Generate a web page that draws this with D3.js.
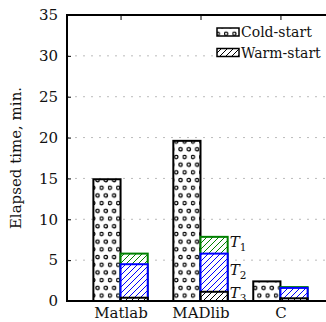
<!DOCTYPE html>
<html><head><meta charset="utf-8">
<script src="https://cdn.jsdelivr.net/npm/d3@7"></script>
<style>
html,body{margin:0;padding:0;background:#fff;}
svg{display:block;}
text{font-family:"DejaVu Serif",serif;fill:#111;}
</style></head>
<body>
<script>
// ---- data ----
const categories = ["Matlab", "MADlib", "C"];
const coldStart = [14.9, 19.6, 2.4];
// warm-start, cumulative tops of each phase (T3 bottom, T2 middle, T1 top)
const warmT1 = [5.8, 7.85, 1.7];
const warmT2 = [4.5, 5.8, 1.6];
const warmT3 = [0.4, 1.13, 0.33];
const yTicks = [0, 5, 10, 15, 20, 25, 30, 35];
const legendLabels = ["Cold-start", "Warm-start"];
const phaseLabels = ["1", "2", "3"];

const W = 326, H = 322;
const m = {left: 67, top: 15, right: 334, bottom: 301};

const svg = d3.select("body").append("svg").attr("width", W).attr("height", H);
const defs = svg.append("defs");

// circle hatch
const pc = defs.append("pattern").attr("id", "dots").attr("patternUnits", "userSpaceOnUse")
  .attr("width", 8.3).attr("height", 15.4).attr("x", 0).attr("y", 0);
pc.append("rect").attr("width", 8.3).attr("height", 15.4).attr("fill", "#fff");
[[2, 3], [6.15, 10.7], [6.15 - 8.3, 10.7]].forEach(([cx, cy]) => {
  pc.append("circle").attr("cx", cx).attr("cy", cy).attr("r", 1.7)
    .attr("fill", "none").attr("stroke", "#000").attr("stroke-width", 1.2);
});
// diagonal hatches
function hatch(id, color) {
  const p = defs.append("pattern").attr("id", id).attr("patternUnits", "userSpaceOnUse")
    .attr("width", 6).attr("height", 6);
  p.append("rect").attr("width", 6).attr("height", 6).attr("fill", "#fff");
  p.append("path").attr("d", "M-1,7 L7,-1 M-4,4 L4,-4 M2,10 L10,2")
    .attr("stroke", color).attr("stroke-width", 1);
}
hatch("hG", "#008000");
hatch("hB", "#0000ff");
hatch("hK", "#000");

const x = d3.scaleLinear().domain([-0.67, 2.67]).range([m.left, m.right]);
const y = d3.scaleLinear().domain([0, 35]).range([m.bottom, m.top]);
const bw = 0.34;

// grid
svg.append("g").selectAll("line").data(yTicks.filter(d => d > 0 && d < 35)).join("line")
  .attr("x1", m.left).attr("x2", W).attr("y1", d => y(d)).attr("y2", d => y(d))
  .attr("stroke", "#bbb").attr("stroke-width", 1).attr("stroke-dasharray", "2,6");

const g = svg.append("g");
// cold bars
g.selectAll(".cold").data(coldStart).join("rect")
  .attr("x", (d, i) => x(i - bw)).attr("width", x(bw) - x(0))
  .attr("y", d => y(d)).attr("height", d => y(0) - y(d))
  .attr("fill", "url(#dots)").attr("stroke", "#000").attr("stroke-width", 2);
// warm bars
[[warmT1, "hG", "#008000"], [warmT2, "hB", "#0000ff"], [warmT3, "hK", "#000"]].forEach(([arr, pid, col]) => {
  g.selectAll(".w" + pid).data(arr).join("rect")
    .attr("x", (d, i) => x(i)).attr("width", x(bw) - x(0))
    .attr("y", d => y(d)).attr("height", d => y(0) - y(d))
    .attr("fill", `url(#${pid})`).attr("stroke", col).attr("stroke-width", 2);
});

// phase annotations next to MADlib warm bar
const mi = 1;
const phaseMid = [(warmT1[mi] + warmT2[mi]) / 2, (warmT2[mi] + warmT3[mi]) / 2, warmT3[mi] / 2];
phaseMid.forEach((v, k) => {
  const t = svg.append("text").attr("x", x(mi + bw) + 2).attr("y", y(v) + 2)
    .attr("font-size", 15);
  t.append("tspan").attr("font-style", "italic").text("T");
  t.append("tspan").attr("font-size", 10.5).attr("dy", 4).text(phaseLabels[k]);
});

// axes
const yAxis = d3.axisLeft(y).tickValues(yTicks).tickSize(-4).tickPadding(9);
const ya = svg.append("g").attr("transform", `translate(${m.left},0)`).call(yAxis);
ya.select(".domain").remove();
ya.selectAll("line").attr("stroke", "#000");
ya.selectAll("text").attr("font-size", 15).attr("font-family", "DejaVu Serif").attr("fill", "#111");

const xAxis = d3.axisBottom(x).tickValues(d3.range(categories.length)).tickFormat(i => categories[i]).tickSize(-4).tickPadding(6);
const xa = svg.append("g").attr("transform", `translate(0,${m.bottom})`).call(xAxis);
xa.select(".domain").remove();
xa.selectAll("line").attr("stroke", "#000");
xa.selectAll("text").attr("font-size", 15).attr("font-family", "DejaVu Serif").attr("fill", "#111");

const xt = svg.append("g").attr("transform", `translate(0,${m.top})`)
  .call(d3.axisTop(x).tickValues(d3.range(categories.length)).tickFormat("").tickSize(-5));
xt.select(".domain").remove();
xt.selectAll("line").attr("stroke", "#000");

// spines
svg.append("rect").attr("x", m.left).attr("y", m.top).attr("width", m.right - m.left).attr("height", m.bottom - m.top)
  .attr("fill", "none").attr("stroke", "#000").attr("stroke-width", 2);

// y label
svg.append("text").attr("transform", `translate(16,${(m.top + m.bottom) / 2}) rotate(-90)`)
  .attr("text-anchor", "middle").attr("dominant-baseline", "central").attr("font-size", 15)
  .text("Elapsed time, min.");

// legend
const lg = svg.append("g");
lg.append("rect").attr("x", 214).attr("y", 23).attr("width", 112).attr("height", 38).attr("fill", "#fff");
legendLabels.forEach((lab, k) => {
  const cy = 32 + k * 20.5;
  lg.append("rect").attr("x", 217).attr("y", cy - 4).attr("width", 22).attr("height", 8)
    .attr("fill", k === 0 ? "url(#dots)" : "url(#hK)").attr("stroke", "#000").attr("stroke-width", 1.5);
  lg.append("text").attr("x", 241).attr("y", cy).attr("dominant-baseline", "central")
    .attr("font-size", 14).text(lab);
});
</script>
</body></html>
